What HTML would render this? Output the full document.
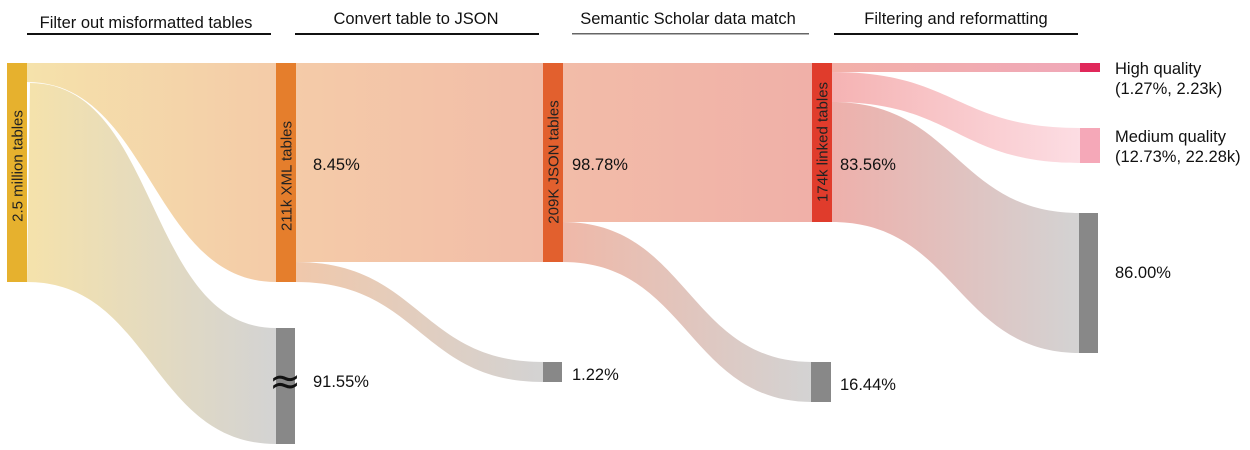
<!DOCTYPE html>
<html><head><meta charset="utf-8"><style>
html,body{margin:0;padding:0;background:#fff;}
svg{display:block;font-family:"Liberation Sans",sans-serif;}
</style></head><body>
<svg width="1250" height="450" viewBox="0 0 1250 450" xmlns="http://www.w3.org/2000/svg">
<defs>
<linearGradient id="g1" gradientUnits="userSpaceOnUse" x1="27" x2="276" y1="0" y2="0"><stop offset="0" stop-color="#f5e2ab"/><stop offset="1" stop-color="#f4cba8"/></linearGradient>
<linearGradient id="g1b" gradientUnits="userSpaceOnUse" x1="27" x2="276" y1="0" y2="0"><stop offset="0" stop-color="#f5e2ab"/><stop offset="1" stop-color="#d3d3d3"/></linearGradient>
<linearGradient id="g2" gradientUnits="userSpaceOnUse" x1="296" x2="543" y1="0" y2="0"><stop offset="0" stop-color="#f4cba8"/><stop offset="1" stop-color="#f2bca8"/></linearGradient>
<linearGradient id="g2b" gradientUnits="userSpaceOnUse" x1="296" x2="543" y1="0" y2="0"><stop offset="0" stop-color="#f0c8ab"/><stop offset="1" stop-color="#d3d3d3"/></linearGradient>
<linearGradient id="g3" gradientUnits="userSpaceOnUse" x1="563" x2="812" y1="0" y2="0"><stop offset="0" stop-color="#f2bca8"/><stop offset="1" stop-color="#f0b0a8"/></linearGradient>
<linearGradient id="g3b" gradientUnits="userSpaceOnUse" x1="563" x2="812" y1="0" y2="0"><stop offset="0" stop-color="#efb8a8"/><stop offset="1" stop-color="#d3d3d3"/></linearGradient>
<linearGradient id="g4a" gradientUnits="userSpaceOnUse" x1="832" x2="1080" y1="0" y2="0"><stop offset="0" stop-color="#f2b0a8"/><stop offset="1" stop-color="#f0a8b8"/></linearGradient>
<linearGradient id="g4b" gradientUnits="userSpaceOnUse" x1="832" x2="1080" y1="0" y2="0"><stop offset="0" stop-color="#f5b3b3"/><stop offset="1" stop-color="#fcdde3"/></linearGradient>
<linearGradient id="g4c" gradientUnits="userSpaceOnUse" x1="832" x2="1080" y1="0" y2="0"><stop offset="0" stop-color="#eeb0ab"/><stop offset="1" stop-color="#d3d3d3"/></linearGradient>
</defs>
<g font-size="16.5" fill="#111" text-anchor="middle">
<text x="146" y="28">Filter out misformatted tables</text>
<text x="416" y="24">Convert table to JSON</text>
<text x="688" y="24">Semantic Scholar data match</text>
<text x="956" y="24">Filtering and reformatting</text>
</g>
<rect x="27" y="33" width="244" height="2" fill="#111"/>
<rect x="295" y="33" width="244" height="2" fill="#111"/>
<rect x="572" y="33" width="237" height="1.5" fill="#666"/>
<rect x="834" y="33" width="244" height="2" fill="#111"/>
<path d="M27,63 L276,63 L276,282 C151,282 151,82 27,82 Z" fill="url(#g1)"/>
<path d="M30,83 C160,83 145,328 276,328 L276,444 C151,444 151,282 27,282 Z" fill="url(#g1b)"/>
<rect x="296" y="63" width="247" height="199" fill="url(#g2)"/>
<path d="M296,262 C420,262 420,362 543,362 L543,382 C420,382 420,282 296,282 Z" fill="url(#g2b)"/>
<rect x="563" y="63" width="249" height="159" fill="url(#g3)"/>
<path d="M563,222 C688,222 688,362 812,362 L812,402 C688,402 688,262 563,262 Z" fill="url(#g3b)"/>
<rect x="832" y="63" width="248" height="9" fill="url(#g4a)"/>
<path d="M832,72 C956,72 956,128 1080,128 L1080,163 C956,163 956,102 832,102 Z" fill="url(#g4b)"/>
<path d="M832,102 C956,102 956,213 1080,213 L1080,353 C956,353 956,222 832,222 Z" fill="url(#g4c)"/>
<rect x="7" y="63" width="20" height="219" fill="#e6b12e"/>
<rect x="276" y="63" width="20" height="219" fill="#e57e2c"/>
<rect x="276" y="328" width="19" height="116" fill="#888"/>
<rect x="543" y="63" width="20" height="199" fill="#e2602e"/>
<rect x="543" y="362" width="19" height="20" fill="#888"/>
<rect x="812" y="63" width="20" height="159" fill="#e03c2c"/>
<rect x="811" y="362" width="20" height="40" fill="#888"/>
<rect x="1080" y="63" width="20" height="9" fill="#e0285a"/>
<rect x="1080" y="128" width="20" height="35" fill="#f5a8b8"/>
<rect x="1079" y="213" width="19" height="140" fill="#888"/>
<g font-size="15" fill="#222" text-anchor="middle">
<text transform="translate(22.5,166) rotate(-90)">2.5 million tables</text>
<text transform="translate(291.5,176) rotate(-90)">211k  XML tables</text>
<text transform="translate(558.5,162) rotate(-90)">209K JSON tables</text>
<text transform="translate(827.5,142) rotate(-90)">174k linked tables</text>
</g>
<g font-size="16.5" fill="#111">
<text x="313" y="170">8.45%</text>
<text x="572" y="170">98.78%</text>
<text x="840" y="170">83.56%</text>
<text x="313" y="387">91.55%</text>
<text x="572" y="380">1.22%</text>
<text x="840" y="390">16.44%</text>
<text x="1115" y="278">86.00%</text>
<text x="1115" y="74">High quality</text>
<text x="1115" y="94">(1.27%, 2.23k)</text>
<text x="1115" y="142">Medium quality</text>
<text x="1115" y="162">(12.73%, 22.28k)</text>
</g>
<text x="285" y="394" font-size="38" text-anchor="middle" fill="#111" font-family="DejaVu Sans, sans-serif">≈</text>
</svg>
</body></html>
